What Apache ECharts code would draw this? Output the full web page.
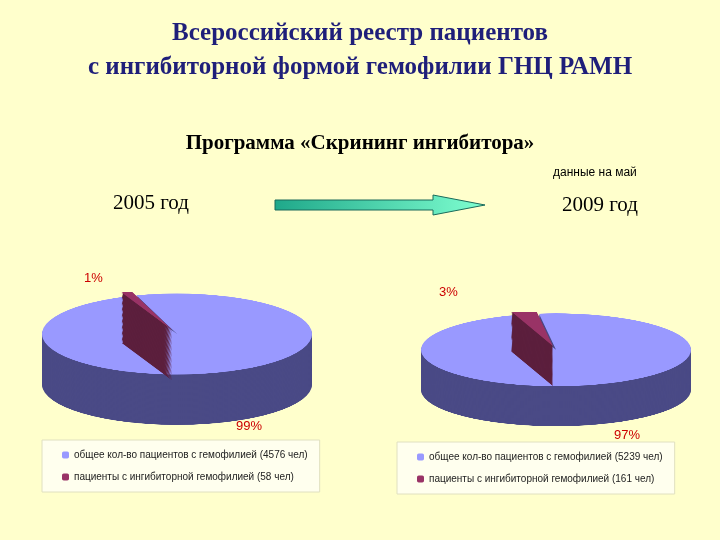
<!DOCTYPE html>
<html>
<head>
<meta charset="UTF-8">
<script src="https://cdn.jsdelivr.net/npm/echarts@6/dist/echarts.min.js"></script>
<style>
  body { margin: 0; background: #ffffcc; }
  #main { position: absolute; left: 0; top: 0; width: 720px; height: 540px; }
  .pie { position: absolute; width: 280px; height: 450px; transform: scaleY(0.3); transform-origin: top left; }
</style>
</head>
<body>
<div id="main"></div>
<div id="p1" class="pie" style="left:37px; top:292px;"></div>
<div id="p2" class="pie" style="left:416px; top:312px; transform: scaleY(0.27);"></div>
<script>
var names2005 = ['общее кол-во пациентов с гемофилией (4576 чел)', 'пациенты с ингибиторной гемофилией (58 чел)']
var values2005 = [4576, 58]
var names2009 = ['общее кол-во пациентов с гемофилией (5239 чел)', 'пациенты с ингибиторной гемофилией (161 чел)']
var values2009 = [5239, 161]
var topColors = ['#9999ff', '#993366']
var sideColors = ['#4a4a86', '#5c1f3d']

// псевдо-3D: стопка тёмных кругов + верхний светлый, div сжат по вертикали
function drawPie(id, names, values, depth, start) {
	var chart = echarts.init(document.getElementById(id))
	var series = []
	var data = function (cols) {
		return values.map(function (v, i) {
			return { name: names[i], value: v, selected: i == 1, itemStyle: { color: cols[i] } }
		}).reverse()
	}
	for (var d = depth; d >= 0; d -= 4) {
		series.push({
			type: 'pie', radius: 135, center: [140, 140 + d], startAngle: start,
			selectedMode: 'single', selectedOffset: 14, silent: true, animation: false,
			label: { show: false }, data: data(d == 0 ? topColors : sideColors)
		})
	}
	if (depth % 4 != 0) series.push({
		type: 'pie', radius: 135, center: [140, 140], startAngle: start,
		selectedMode: 'single', selectedOffset: 14, silent: true, animation: false,
		label: { show: false }, data: data(topColors)
	})
	chart.setOption({ series: series })
}
drawPie('p1', names2005, values2005, 168, 112)
drawPie('p2', names2009, values2009, 148, 108)

var main = echarts.init(document.getElementById('main'))
var serif = 'Liberation Serif'
var legendBase = {
	orient: 'vertical', itemWidth: 7, itemHeight: 7, itemGap: 12,
	backgroundColor: '#ffffee', borderColor: '#e0e0c0', borderWidth: 1,
	padding: [10, 12, 10, 20],
	textStyle: { fontFamily: 'Liberation Sans', fontSize: 10, color: '#222' }
}
main.setOption({
	title: [
		{ text: 'Всероссийский реестр пациентов\nс ингибиторной формой гемофилии ГНЦ РАМН', left: 'center', top: 12,
			textStyle: { fontFamily: serif, fontSize: 25, fontWeight: 'bold', color: '#1f1f7a', lineHeight: 34, align: 'center' } },
		{ text: 'Программа «Скрининг ингибитора»', left: 'center', top: 128,
			textStyle: { fontFamily: serif, fontSize: 21, fontWeight: 'bold', color: '#000' } }
	],
	legend: [
		Object.assign({}, legendBase, { left: 42, top: 440, width: 285, data: names2005 }),
		Object.assign({}, legendBase, { left: 397, top: 442, width: 291, data: names2009 })
	],
	series: [
		{ type: 'pie', radius: 0, silent: true, label: { show: false },
			data: values2005.map(function (v, i) { return { name: names2005[i], value: v, itemStyle: { color: topColors[i] } } }) },
		{ type: 'pie', radius: 0, silent: true, label: { show: false },
			data: values2009.map(function (v, i) { return { name: names2009[i], value: v, itemStyle: { color: topColors[i] } } }) }
	],
	graphic: [
		{ type: 'text', left: 113, top: 193, style: { text: '2005 год', font: '21px "Liberation Serif"', fill: '#000' } },
		{ type: 'text', left: 562, top: 195, style: { text: '2009 год', font: '21px "Liberation Serif"', fill: '#000' } },
		{ type: 'text', left: 553, top: 167, style: { text: 'данные на май', font: '12px "Liberation Sans"', fill: '#000' } },
		{ type: 'polygon', shape: { points: [[275, 200], [433, 200], [433, 195], [485, 205], [433, 215], [433, 210], [275, 210]] },
			style: { fill: new echarts.graphic.LinearGradient(0, 0, 1, 0, [{ offset: 0, color: '#1fa88a' }, { offset: 1, color: '#7fffd0' }]), stroke: '#1a6a5a', lineWidth: 1 } },
		{ type: 'text', left: 84, top: 272, style: { text: '1%', font: '13px "Liberation Sans"', fill: '#cc0000' } },
		{ type: 'text', left: 236, top: 420, style: { text: '99%', font: '13px "Liberation Sans"', fill: '#cc0000' } },
		{ type: 'text', left: 439, top: 286, style: { text: '3%', font: '13px "Liberation Sans"', fill: '#cc0000' } },
		{ type: 'text', left: 614, top: 429, style: { text: '97%', font: '13px "Liberation Sans"', fill: '#cc0000' } }
	]
})
</script>
</body>
</html>
